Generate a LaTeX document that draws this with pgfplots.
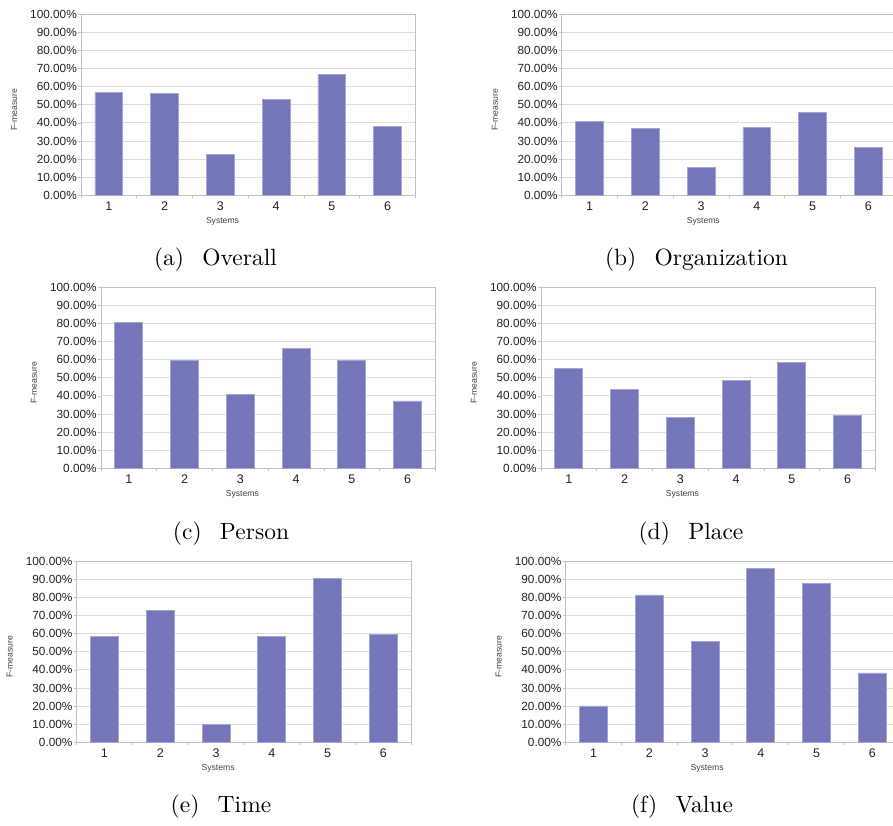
\documentclass[border=0pt]{standalone}
\usepackage{fontspec}
\usepackage{pgfplots}
\pgfplotsset{compat=1.18}
\newfontfamily\chartfont{Liberation Sans}
\newfontfamily\capfam{lmroman10-regular.otf}
\definecolor{barfill}{HTML}{7476B7}
\definecolor{baredge}{HTML}{A3A5D8}
\definecolor{gridc}{HTML}{DDDDDD}
\definecolor{axisc}{HTML}{C0C0C0}
\definecolor{tickc}{HTML}{222222}
\pgfplotsset{fmstyle/.style={
  scale only axis, width=334.5pt, height=181pt,
  anchor=south west,
  xmin=0.5, xmax=6.5, ymin=0, ymax=100, enlargelimits=false,
  xtick={1,2,3,4,5,6}, xticklabels={1,2,3,4,5,6},
  minor xtick={0.5,1.5,2.5,3.5,4.5,5.5,6.5},
  ytick={0,10,20,30,40,50,60,70,80,90,100},
  yticklabels={0.00\%,10.00\%,20.00\%,30.00\%,40.00\%,50.00\%,60.00\%,70.00\%,80.00\%,90.00\%,100.00\%},
  axis line style={draw=axisc, line width=0.8pt},
  ymajorgrids, major grid style={draw=gridc, line width=0.9pt},
  tick align=outside, xtick pos=bottom, ytick pos=left,
  major tick length=2.5pt, minor tick length=3pt,
  major x tick style={draw=none},
  minor x tick style={draw=axisc, line width=0.8pt},
  major y tick style={draw=axisc, line width=0.8pt},
  ticklabel style={font=\chartfont\fontsize{11.8}{13}\selectfont, text=tickc},
  yticklabel style={inner sep=1.5pt},
  xticklabel style={inner sep=0pt, yshift=-3.5pt, font=\chartfont\fontsize{12.5}{13}\selectfont},
  xlabel={Systems}, ylabel={F-measure},
  label style={font=\chartfont\fontsize{8.6}{10}\selectfont, text=black!75},
  xlabel style={at={(axis description cs:0.423,-0.145)}, anchor=center},
  ylabel style={at={(axis description cs:-0.2,0.472)}, anchor=center},
}}
\newcommand{\capfont}{\capfam\fontsize{23.5}{28}\selectfont}
\begin{document}
\begin{tikzpicture}
\useasboundingbox (0,0) rectangle (893pt,-825pt);
% (a) Overall
\begin{axis}[fmstyle, at={(81.0pt,-195.3pt)}]
\addplot[ybar, bar width=0.5, fill=barfill, draw=baredge, line width=0.8pt] coordinates {(1,57.0) (2,56.5) (3,22.5) (4,52.8) (5,66.8) (6,38.2)};
\end{axis}
% (b) Organization
\begin{axis}[fmstyle, at={(561.8pt,-195.3pt)}]
\addplot[ybar, bar width=0.5, fill=barfill, draw=baredge, line width=0.8pt] coordinates {(1,40.8) (2,36.9) (3,15.5) (4,37.3) (5,46.0) (6,26.6)};
\end{axis}
% (c) Person
\begin{axis}[fmstyle, at={(100.9pt,-468.3pt)}]
\addplot[ybar, bar width=0.5, fill=barfill, draw=baredge, line width=0.8pt] coordinates {(1,80.4) (2,59.8) (3,40.9) (4,66.3) (5,59.7) (6,37.2)};
\end{axis}
% (d) Place
\begin{axis}[fmstyle, at={(540.9pt,-468.3pt)}]
\addplot[ybar, bar width=0.5, fill=barfill, draw=baredge, line width=0.8pt] coordinates {(1,55.2) (2,43.4) (3,28.0) (4,48.4) (5,58.6) (6,29.3)};
\end{axis}
% (e) Time
\begin{axis}[fmstyle, at={(76.6pt,-742.3pt)}]
\addplot[ybar, bar width=0.5, fill=barfill, draw=baredge, line width=0.8pt] coordinates {(1,58.3) (2,72.9) (3,10.1) (4,58.7) (5,90.6) (6,59.7)};
\end{axis}
% (f) Value
\begin{axis}[fmstyle, at={(565.6pt,-742.3pt)}]
\addplot[ybar, bar width=0.5, fill=barfill, draw=baredge, line width=0.8pt] coordinates {(1,20.1) (2,81.4) (3,55.6) (4,96.1) (5,87.8) (6,38.3)};
\end{axis}
\node[anchor=base, font=\capfont] at (215.5pt,-265.7pt) {(a)\hspace{0.78em}Overall};
\node[anchor=base, font=\capfont] at (696.5pt,-265.7pt) {(b)\hspace{0.78em}Organization};
\node[anchor=base, font=\capfont] at (231pt,-539.3pt) {(c)\hspace{0.78em}Person};
\node[anchor=base, font=\capfont] at (691pt,-539.3pt) {(d)\hspace{0.78em}Place};
\node[anchor=base, font=\capfont] at (221pt,-812.9pt) {(e)\hspace{0.78em}Time};
\node[anchor=base, font=\capfont] at (682pt,-812.9pt) {(f)\hspace{0.78em}Value};
\end{tikzpicture}
\end{document}
